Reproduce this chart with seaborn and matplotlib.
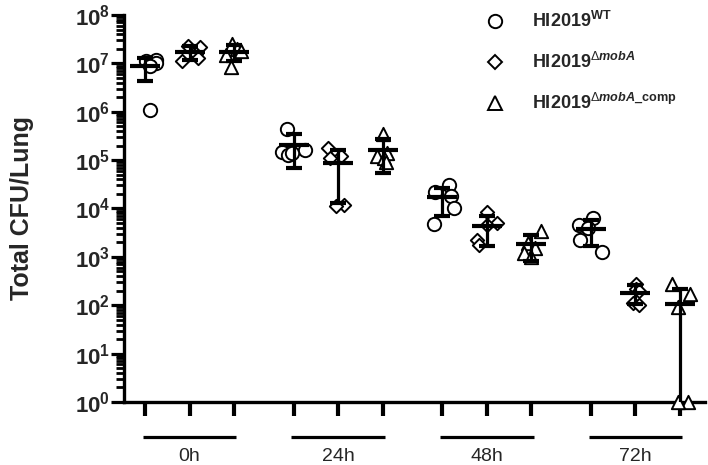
import numpy as np
import pandas as pd
import matplotlib
matplotlib.use("Agg")
import matplotlib.pyplot as plt
import matplotlib.transforms as mtransforms
from matplotlib.lines import Line2D
from matplotlib.ticker import LogLocator, NullFormatter, FixedLocator
import seaborn as sns

# ─── Data (CFU per lung) ──────────────────────────────────────────────────────
TIMES = ["0h", "24h", "48h", "72h"]
STRAINS = ["WT", "mobA", "comp"]

CFU_WT = [
    [1.2e7, 1.1e7, 1.0e7, 9.0e6, 1.1e6],
    [4.5e5, 1.6e5, 1.5e5, 1.3e5, 1.4e5],
    [3.0e4, 2.2e4, 1.8e4, 1.0e4, 4.7e3],
    [6.5e3, 4.6e3, 4.0e3, 2.2e3, 1.25e3],
]
CFU_MOBA = [
    [2.3e7, 2.2e7, 1.6e7, 1.3e7, 1.1e7],
    [1.8e5, 1.2e5, 1.1e5, 1.2e4, 1.1e4],
    [8.5e3, 5.0e3, 4.5e3, 2.2e3, 1.8e3],
    [280, 220, 200, 110, 100],
]
CFU_COMP = [
    [2.5e7, 2.0e7, 1.8e7, 1.5e7, 8.5e6],
    [3.5e5, 1.4e5, 1.2e5, 1.1e5, 9.0e4],
    [3.5e3, 1.9e3, 1.5e3, 1.2e3, 1.0e3],
    [270, 170, 90, 1, 1],
]

LEGEND_LABELS = [
    r"HI2019$^{\mathbf{WT}}$",
    r"HI2019$^{\Delta\mathbfit{mobA}}$",
    r"HI2019$^{\Delta\mathbfit{mobA}\mathbf{\_comp}}$",
]
EXPONENTS = list(range(0, 9))

# ─── Style ────────────────────────────────────────────────────────────────────
sns.set_style("ticks")
plt.rcParams["font.family"] = ["Liberation Sans", "DejaVu Sans"]
plt.rcParams["mathtext.fontset"] = "custom"
plt.rcParams["mathtext.rm"] = "Liberation Sans"
plt.rcParams["mathtext.bf"] = "Liberation Sans:bold"
plt.rcParams["mathtext.it"] = "Liberation Sans:italic"
plt.rcParams["mathtext.bfit"] = "Liberation Sans:italic:bold"

STEP = 3.33          # spacing between time groups (in strain-slot units)
MARKERS = {"WT": "o", "mobA": "D", "comp": "^"}
MSIZE = {"WT": 9.6, "mobA": 6.8, "comp": 9.6}

# long table
rows = []
for s_idx, (strain, series) in enumerate(zip(STRAINS, [CFU_WT, CFU_MOBA, CFU_COMP])):
    for t_idx, vals in enumerate(series):
        for v in vals:
            rows.append({"time": TIMES[t_idx], "strain": strain,
                         "xpos": t_idx * STEP + s_idx, "cfu": v})
df = pd.DataFrame(rows)
stats = df.groupby(["strain", "xpos"], sort=False)["cfu"].agg(["mean", "std"]).reset_index()

fig = plt.figure(figsize=(7.08, 4.65), dpi=100)
ax = fig.add_axes([124 / 708, 63 / 465, 581 / 708, 387 / 465])
ax.set_yscale("log")

np.random.seed(4)
for strain in STRAINS:
    sub = df[df["strain"] == strain]
    sns.stripplot(data=sub, x="xpos", y="cfu", native_scale=True, orient="x",
                  jitter=0.27 / STEP, marker=MARKERS[strain], size=MSIZE[strain],
                  color="white", edgecolor="black", linewidth=1.4,
                  legend=False, ax=ax, zorder=3, clip_on=False)

ax.errorbar(stats["xpos"], stats["mean"], yerr=stats["std"], fmt="_",
            ms=22, mew=3, color="black", ecolor="black", elinewidth=2.3,
            capsize=6, capthick=2.3, zorder=5)

ax.set_ylim(1, 1e8)
ax.set_xlim(-0.47, 3 * STEP + 2.56)

# y axis
ax.yaxis.set_major_locator(FixedLocator([10.0 ** e for e in EXPONENTS]))
ax.set_yticklabels([rf"$\mathbf{{10^{{{e}}}}}$" for e in EXPONENTS], fontsize=16)
ax.yaxis.set_minor_locator(LogLocator(base=10, subs=np.arange(2, 10), numticks=20))
ax.yaxis.set_minor_formatter(NullFormatter())
ax.tick_params(axis="y", which="major", length=9.5, width=2.3, pad=0.5, color="black")
ax.tick_params(axis="y", which="minor", length=5.5, width=2.0, color="black")
ax.set_ylabel("Total CFU/Lung", fontsize=18, fontweight="bold")
ax.yaxis.set_label_coords(-0.155, 0.5)

# x axis: one tick per strain slot, groups labelled underneath
xticks = sorted(df["xpos"].unique())
ax.set_xticks(xticks)
ax.set_xticklabels([])
ax.tick_params(axis="x", which="major", length=10, width=3, color="black")
ax.set_xlabel("")

trans = mtransforms.blended_transform_factory(ax.transData, ax.transAxes)
for t_idx, label in enumerate(TIMES):
    c = t_idx * STEP + 1
    ax.plot([c - 1.05, c + 1.05], [-0.091, -0.091], transform=trans,
            color="black", lw=2.3, clip_on=False, solid_capstyle="butt")
    ax.text(c, -0.14, label, transform=trans, ha="center", va="center", fontsize=14)

for side in ["top", "right"]:
    ax.spines[side].set_visible(False)
for side in ["left", "bottom"]:
    ax.spines[side].set_linewidth(2.4)
    ax.spines[side].set_color("black")

# legend
handles = [Line2D([], [], linestyle="none", marker=MARKERS[s], markersize=MSIZE[s],
                  markerfacecolor="white", markeredgecolor="black", markeredgewidth=1.4)
           for s in STRAINS]
fig.legend(handles, LEGEND_LABELS, loc="upper left",
           bbox_to_anchor=(481 / 708, 1 - 11 / 465), frameon=False,
           prop={"weight": "bold", "size": 13}, handlelength=1.5,
           handletextpad=1.3, labelspacing=1.15, borderpad=0, borderaxespad=0)

fig.savefig("out.png", dpi=100, facecolor="white")
